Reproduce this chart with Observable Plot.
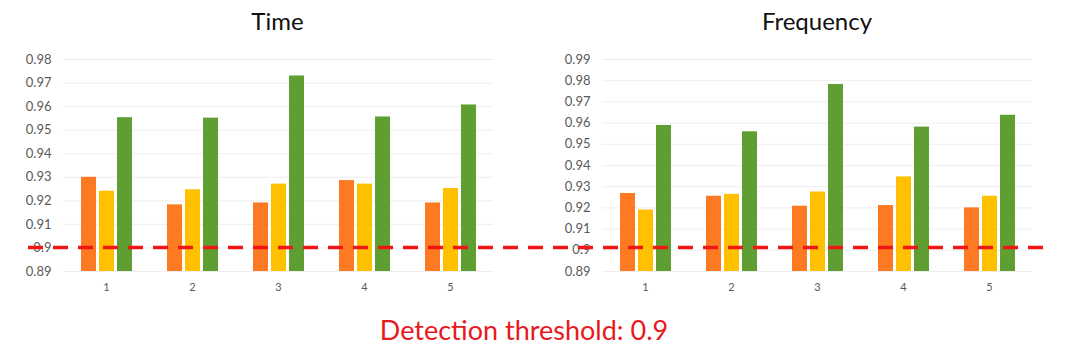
<!DOCTYPE html>
<html><head><meta charset="utf-8">
<script src="https://cdn.jsdelivr.net/npm/d3@7"></script>
<script src="https://cdn.jsdelivr.net/npm/@observablehq/plot@0.6"></script>
<style>
body{margin:0;background:#fff;}
#wrap{position:relative;width:1080px;height:351px;overflow:hidden;font-family:Lato,"Open Sans",sans-serif;background:#fff;}
.panel{position:absolute;top:0;width:540px;height:351px;}
.title{position:absolute;top:6px;font-size:24px;color:#111;text-align:center;line-height:30px;}
.chart{position:absolute;top:40px;left:0;}
.caption{position:absolute;top:312px;left:0;width:1048px;text-align:center;font-size:27px;color:#e8191c;line-height:36px;}
#overlay{position:absolute;left:0;top:0;pointer-events:none;}
g[aria-label^="fx-axis"] text{font-size:11px;}
</style></head><body>
<div id="wrap"></div>
<script>
// ---- data ----
const groups = ["1", "2", "3", "4", "5"];
const seriesNames = ["Series A", "Series B", "Series C"];
const seriesColors = ["#fd7a22", "#ffc000", "#5f9f31"];

const timeA = [0.9300, 0.9183, 0.9191, 0.9286, 0.9191];
const timeB = [0.9241, 0.9247, 0.9271, 0.9271, 0.9252];
const timeC = [0.9553, 0.9551, 0.9730, 0.9556, 0.9607];

const freqA = [0.9268, 0.9255, 0.9208, 0.9211, 0.9200];
const freqB = [0.9190, 0.9264, 0.9275, 0.9346, 0.9255];
const freqC = [0.9589, 0.9559, 0.9782, 0.9581, 0.9637];

const timeTicks = [0.89, 0.9, 0.91, 0.92, 0.93, 0.94, 0.95, 0.96, 0.97, 0.98];
const freqTicks = [0.89, 0.9, 0.91, 0.92, 0.93, 0.94, 0.95, 0.96, 0.97, 0.98, 0.99];

const threshold = 0.9;
const titles = ["Time", "Frequency"];
const captionText = "Detection threshold: 0.9";

// ---- build ----
function rows(seriesArrays) {
  return groups.flatMap((g, i) => seriesNames.map((s, j) => ({group: g, series: s, value: seriesArrays[j][i]})));
}
const W = 540, H = 260, ML = 62, MT = 19, MB = 29;
const fmt = d => String(+d.toFixed(2));

function makeChart(data, ticks, mr) {
  const yMin = ticks[0];
  return Plot.plot({
    width: W, height: H,
    marginLeft: ML, marginRight: mr, marginTop: MT, marginBottom: MB,
    style: {fontSize: "13px", fontFamily: "Lato, 'Open Sans', sans-serif", color: "#595959", background: "transparent", overflow: "visible"},
    fx: {domain: groups, padding: 0, axis: "bottom", label: null, tickSize: 0, tickPadding: 12},
    x: {domain: seriesNames, paddingInner: 0.17, paddingOuter: 0.89, axis: null},
    y: {domain: [yMin, ticks[ticks.length - 1]], ticks: ticks, tickFormat: fmt, grid: true, label: null, tickSize: 0, tickPadding: 12},
    color: {type: "ordinal", domain: seriesNames, range: seriesColors},
    marks: [
      Plot.barY(data, {fx: "group", x: "series", y1: yMin, y2: "value", fill: "series"})
    ]
  });
}

const wrap = document.getElementById("wrap");
const specs = [
  {data: rows([timeA, timeB, timeC]), ticks: timeTicks, mr: 47},
  {data: rows([freqA, freqB, freqC]), ticks: freqTicks, mr: 48}
];
const charts = [];
specs.forEach((s, i) => {
  const panel = document.createElement("div");
  panel.className = "panel";
  panel.style.left = (i * W) + "px";
  const t = document.createElement("div");
  t.className = "title";
  t.style.left = ML + "px";
  t.style.width = (W - ML - s.mr) + "px";
  t.textContent = titles[i];
  panel.appendChild(t);
  const c = makeChart(s.data, s.ticks, s.mr);
  c.classList.add("chart");
  panel.appendChild(c);
  wrap.appendChild(panel);
  charts.push(c);
});

// threshold line spanning both panels, positioned by the left chart's y scale
const yPix = charts[0].scale("y").apply(threshold) + 40;
const svgNS = "http://www.w3.org/2000/svg";
const ov = document.createElementNS(svgNS, "svg");
ov.setAttribute("id", "overlay");
ov.setAttribute("width", 1080);
ov.setAttribute("height", 351);
const ln = document.createElementNS(svgNS, "line");
ln.setAttribute("x1", ML - 34);
ln.setAttribute("x2", 2 * W - 37);
ln.setAttribute("y1", yPix);
ln.setAttribute("y2", yPix);
ln.setAttribute("stroke", "#f01616");
ln.setAttribute("stroke-width", 3.5);
ln.setAttribute("stroke-dasharray", "15 10");
ov.appendChild(ln);
wrap.appendChild(ov);

const cap = document.createElement("div");
cap.className = "caption";
cap.textContent = captionText;
wrap.appendChild(cap);
</script>
</body></html>
